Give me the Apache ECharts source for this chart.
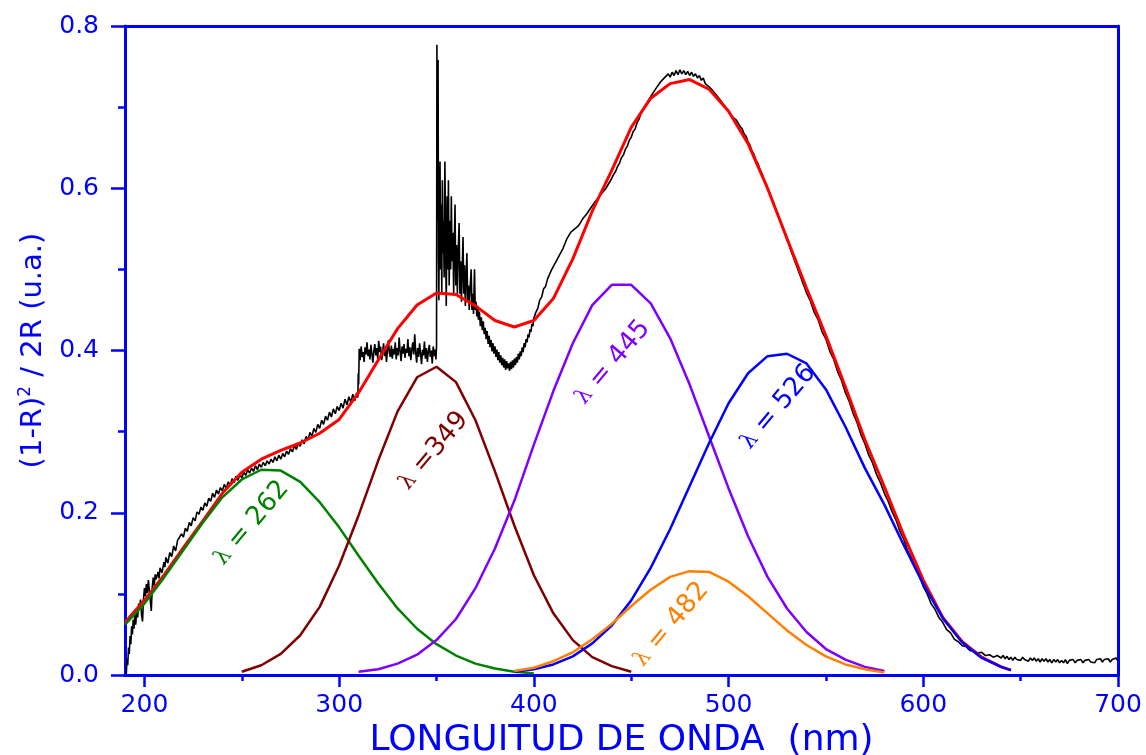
<!DOCTYPE html>
<html>
<head>
<meta charset="utf-8">
<title>Espectro de reflectancia difusa</title>
<script src="https://cdn.jsdelivr.net/npm/echarts/dist/echarts.min.js"></script>
<style>
  html, body { margin: 0; padding: 0; background: #fff; }
  #chart { width: 1146px; height: 755px; }
</style>
</head>
<body>
<div id="chart"></div>
<script>
  // espectro medido (negro) [nm, (1-R)^2/2R]
  var spectrum = [
    [190.7,0.002],[191.0,0.020],[191.4,0.012],[191.8,0.034],[192.2,0.026],[192.6,0.048],[193.0,0.038],[193.4,0.060],[193.8,0.050],[194.2,0.068],
    [194.6,0.057],[195.0,0.074],[195.5,0.062],[196.0,0.080],[196.5,0.071],[197.0,0.088],[197.5,0.083],[198.0,0.093],[198.5,0.074],[199.0,0.066],
    [199.5,0.094],[200.0,0.107],[200.5,0.097],[201.0,0.112],[201.5,0.101],[202.0,0.117],[202.5,0.104],[203.0,0.092],[203.5,0.079],[204.0,0.108],
    [204.5,0.120],[205.0,0.110],[205.5,0.124],[206.0,0.118],[207.0,0.127],[207.5,0.119],[208.0,0.132],[209.0,0.126],[210.0,0.139],[210.5,0.133],
    [211.0,0.145],[212.0,0.138],[213.0,0.151],[214.0,0.146],[215.0,0.159],[216.0,0.153],[217.0,0.166],[218.0,0.168],
    [219,0.174],[220,0.170],[221,0.181],[222,0.177],[223,0.188],[224,0.184],[225,0.194],[226,0.190],[227,0.201],[228,0.198],
    [229,0.207],[230,0.203],[231,0.212],[232,0.208],[233,0.218],[234,0.214],[235,0.224],[236,0.219],[237,0.228],[238,0.223],
    [239,0.231],[240,0.227],[241,0.235],[242,0.230],[243,0.238],[244,0.234],[245,0.242],[246,0.237],[247,0.245],[248,0.240],
    [249,0.247],[250,0.243],[251,0.250],[252,0.246],[253,0.253],[254,0.249],[255,0.255],[256,0.251],[257,0.258],[258,0.253],
    [259,0.260],[260,0.256],[261,0.262],[262,0.258],[263,0.264],[264,0.260],[265,0.266],[266,0.262],[267,0.269],[268,0.264],
    [269,0.271],[270,0.266],[271,0.273],[272,0.269],[273,0.276],[274,0.272],[275,0.279],[276,0.275],[277,0.283],[278,0.278],
    [279,0.286],[280,0.282],[281,0.290],[282,0.285],[283,0.294],[284,0.290],[285,0.299],[286,0.294],[287,0.304],[288,0.299],
    [289,0.309],[290,0.304],[291,0.314],[292,0.309],[293,0.319],[294,0.314],[295,0.324],[296,0.318],[297,0.328],[298,0.322],
    [299,0.331],[300,0.326],[301,0.335],[302,0.329],[303,0.340],[304,0.333],[305,0.343],[306,0.336],[307,0.346],[308,0.338],
    [309,0.348],[309.6,0.342],
    [309.8,0.372],[310.0,0.358],[310.3,0.402],[310.8,0.388],[311.3,0.405],[311.8,0.392],[312.3,0.398],[312.8,0.386],[313.3,0.404],[313.8,0.395],
    [314.3,0.410],[314.8,0.393],[315.3,0.401],[315.8,0.389],[316.3,0.407],[316.8,0.396],[317.3,0.385],[317.8,0.399],[318.3,0.408],[318.8,0.394],
    [319.3,0.403],[319.8,0.390],[320.3,0.412],[320.8,0.398],[321.3,0.405],[321.8,0.388],[322.3,0.396],[322.8,0.409],[323.3,0.393],[323.8,0.404],
    [324.3,0.386],[324.8,0.400],[325.3,0.413],[325.8,0.397],[326.3,0.392],[326.8,0.406],[327.3,0.390],[327.8,0.402],[328.3,0.395],[328.8,0.410],
    [329.3,0.389],[329.8,0.403],[330.3,0.394],[330.8,0.416],[331.3,0.399],[331.8,0.387],[332.3,0.405],[332.8,0.396],[333.3,0.408],[333.8,0.391],
    [334.3,0.402],[334.8,0.397],[335.3,0.414],[335.8,0.393],[336.3,0.404],[336.8,0.388],[337.3,0.401],[337.8,0.410],[338.3,0.395],[338.8,0.420],
    [339.3,0.398],[339.8,0.385],[340.3,0.403],[340.8,0.392],[341.3,0.409],[341.8,0.396],[342.3,0.383],[342.8,0.401],[343.3,0.394],[343.8,0.411],
    [344.3,0.390],[344.8,0.403],[345.3,0.386],[345.8,0.399],[346.3,0.407],[346.8,0.392],[347.3,0.400],[347.8,0.384],[348.3,0.405],[348.8,0.393],
    [349.3,0.401],[349.7,0.389],[350.0,0.405],
    [350.2,0.777],[350.4,0.560],[350.6,0.700],[350.8,0.758],[351.0,0.520],[351.2,0.462],[351.5,0.600],[351.8,0.633],[352.1,0.500],[352.4,0.580],
    [352.7,0.470],[353.0,0.610],[353.3,0.520],[353.6,0.560],[353.9,0.490],[354.3,0.633],[354.7,0.520],[355.0,0.455],[355.4,0.590],[355.8,0.500],
    [356.1,0.610],[356.5,0.480],[356.9,0.560],[357.3,0.500],[357.6,0.590],[358.0,0.510],[358.4,0.545],[358.8,0.470],[359.2,0.540],[359.5,0.580],
    [359.9,0.480],[360.3,0.530],[360.7,0.470],[361.1,0.520],[361.6,0.557],[362.0,0.470],[362.4,0.510],[362.8,0.460],[363.2,0.500],[363.6,0.540],
    [364.0,0.470],[364.4,0.505],[364.8,0.455],[365.2,0.490],[365.6,0.520],[366.0,0.460],[366.4,0.480],[366.8,0.450],[367.2,0.475],[367.8,0.500],
    [368.2,0.450],[368.6,0.470],[369.0,0.445],[369.5,0.500],[369.9,0.450],[370.3,0.460],[370.7,0.442],[371.1,0.455],[371.5,0.438],[372.0,0.448],
    [372.5,0.430],[373.0,0.441],[373.5,0.425],[374.0,0.436],[374.5,0.420],[375.0,0.428],[375.5,0.414],[376.0,0.424],[376.5,0.408],[377.0,0.418],
    [377.5,0.404],[378.0,0.413],[378.5,0.399],[379.0,0.409],[379.5,0.396],[380.0,0.405],[380.5,0.392],[381.0,0.401],[381.5,0.388],[382.0,0.398],
    [382.5,0.385],[383.0,0.394],[383.5,0.382],[384.0,0.391],[384.5,0.379],[385.0,0.389],[385.5,0.376],[386.0,0.387],[386.5,0.378],[387.0,0.384],
    [387.5,0.375],[388.0,0.386],[388.5,0.377],[389.0,0.388],[389.5,0.379],[390.0,0.390],[390.5,0.382],[391.0,0.392],[391.5,0.385],[392.0,0.396],
    [392.5,0.389],[393.0,0.399],[393.5,0.393],[394.0,0.404],[394.5,0.398],[395.0,0.409],[395.5,0.404],[396.0,0.414],[396.5,0.410],[397.0,0.420],
    [397.5,0.416],[398.0,0.426],[398.5,0.423],[399.0,0.433],[399.5,0.430],[400.0,0.440],
    [401,0.447],[402,0.452],[403,0.462],[404,0.466],[405,0.476],[406,0.479],[407,0.488],[408,0.490],[409,0.499],[410,0.501],
    [411,0.508],[412,0.509],[413,0.517],[414,0.518],[415,0.526],[416,0.528],[417,0.538],[418,0.540],[419,0.546],[420,0.544],
    [421,0.550],[422,0.548],[423,0.554],[424,0.555],[425,0.562],[426,0.561],[427,0.568],[428,0.568],[429,0.575],[430,0.575],
    [431,0.582],[432,0.583],[433,0.588],[434,0.589],[435,0.594],[436,0.595],[437,0.600],[438,0.602],[439,0.608],[440,0.610],
    [441,0.617],[442,0.621],[443,0.627],[444,0.631],[445,0.638],[446,0.641],[447,0.648],[448,0.652],[449,0.659],[450,0.663],
    [451,0.670],[452,0.673],[453,0.681],[454,0.685],[455,0.692],[456,0.694],[457,0.701],[458,0.703],[459,0.709],[460,0.711],
    [461,0.717],[462,0.718],[463,0.724],[464,0.725],[465,0.731],[466,0.730],[467,0.736],[468,0.735],[469,0.741],[470,0.737],
    [471,0.743],[472,0.739],[473,0.745],[474,0.740],[475,0.746],[476,0.741],[477,0.745],[478,0.740],[479,0.744],[480,0.739],
    [481,0.743],[482,0.738],[483,0.741],[484,0.736],[485,0.739],[486,0.733],[487,0.736],[488,0.729],[489,0.731],[490,0.725],
    [491,0.727],[492,0.720],[493,0.721],[494,0.714],[495,0.715],[496,0.708],[497,0.708],[498,0.701],[499,0.701],[500,0.694],
    [501,0.694],[502,0.688],[503,0.687],[504,0.684],[505,0.682],[506,0.676],[507,0.673],[508,0.667],[509,0.664],[510,0.657],
    [511,0.653],[512,0.646],[513,0.642],[514,0.635],[515,0.631],[516,0.624],[517,0.619],[518,0.612],[519,0.607],[520,0.600],
    [521,0.595],[522,0.588],[523,0.583],[524,0.575],[525,0.570],[526,0.562],[527,0.557],[528,0.549],[529,0.544],[530,0.536],
    [531,0.531],[532,0.523],[533,0.517],[534,0.510],[535,0.504],[536,0.497],[537,0.491],[538,0.484],[539,0.478],[540,0.471],
    [542,0.461],[544,0.447],[546,0.438],[548,0.423],[550,0.414],[552,0.399],[554,0.389],[556,0.374],[558,0.363],[560,0.348],
    [562,0.337],[564,0.322],[566,0.311],[568,0.296],[570,0.285],[572,0.271],[574,0.261],[576,0.247],[578,0.237],[580,0.224],
    [582,0.214],[584,0.201],[586,0.191],[588,0.177],[590,0.167],[592,0.153],[594,0.144],[596,0.131],[598,0.122],[600,0.109],
    [602,0.100],[604,0.088],[606,0.081],[608,0.071],[610,0.065],[612,0.056],[614,0.052],[616,0.044],[618,0.041],[620,0.036],
    [622,0.035],[624,0.030],[626,0.030],[628,0.027],[630,0.028],[632,0.024],[634,0.025],[636,0.022],[638,0.024],[640,0.021],
    [641,0.024],[642,0.020],[643,0.023],[644,0.019],[645,0.022],[646,0.018],[647,0.022],[648,0.019],[649,0.021],[650,0.018],
    [651,0.022],[652,0.019],[653,0.021],[654,0.017],[655,0.021],[656,0.018],[657,0.021],[658,0.017],[659,0.020],[660,0.016],
    [661,0.020],[662,0.017],[663,0.020],[664,0.016],[665,0.019],[666,0.015],[667,0.019],[668,0.016],[669,0.019],[670,0.015],
    [671,0.018],[672,0.015],[673,0.019],[674,0.014],[675,0.018],[676,0.016],[677,0.019],[678,0.015],[679,0.018],[680,0.016],
    [681,0.019],[682,0.015],[683,0.018],[684,0.016],[685,0.019],[686,0.016],[687,0.018],[688,0.015],[689,0.019],[690,0.017],
    [691,0.020],[692,0.016],[693,0.019],[694,0.017],[695,0.020],[696,0.016],[697,0.019],[698,0.017],[699,0.021],[699.7,0.018]
  ]

  // ajuste total (rojo)
  var fitTotal = [
    [190,0.065],[200,0.092],[210,0.123],[220,0.157],[230,0.190],[240,0.224],[250,0.250],[260,0.266],[270,0.277],[280,0.286],
    [290,0.298],[300,0.315],[310,0.348],[320,0.388],[330,0.427],[340,0.456],[350,0.471],[360,0.469],[370,0.455],[380,0.437],
    [390,0.429],[400,0.437],[410,0.464],[420,0.513],[430,0.572],[440,0.622],[450,0.675],[460,0.711],[470,0.729],[480,0.734],
    [490,0.722],[500,0.695],[510,0.655],[520,0.600],[530,0.538],[540,0.477],[550,0.418],[560,0.355],[570,0.290],[580,0.232],
    [590,0.172],[600,0.117],[610,0.071],[620,0.041],[630,0.022],[640,0.010],[645,0.006]
  ]

  // bandas gaussianas
  var band262 = [
    [190,0.062],[200,0.088],[210,0.120],[220,0.154],[230,0.188],[240,0.219],[250,0.241],[260,0.253],[270,0.252],[280,0.238],
    [290,0.213],[300,0.182],[310,0.147],[320,0.113],[330,0.082],[340,0.057],[350,0.038],[360,0.024],[370,0.014],[380,0.008],
    [390,0.004],[400,0.002]
  ]
  var band349 = [
    [250,0.004],[260,0.012],[270,0.026],[280,0.049],[290,0.084],[300,0.135],[310,0.197],[320,0.264],[330,0.325],[340,0.367],
    [350,0.380],[360,0.361],[370,0.314],[380,0.251],[390,0.184],[400,0.123],[410,0.076],[420,0.043],[430,0.022],[440,0.011],
    [450,0.004]
  ]
  var band445 = [
    [310,0.004],[320,0.007],[330,0.014],[340,0.025],[350,0.043],[360,0.069],[370,0.107],[380,0.156],[390,0.215],[400,0.284],
    [410,0.350],[420,0.409],[430,0.456],[440,0.481],[450,0.481],[460,0.458],[470,0.415],[480,0.358],[490,0.294],[500,0.230],
    [510,0.171],[520,0.121],[530,0.082],[540,0.053],[550,0.032],[560,0.019],[570,0.010],[580,0.005]
  ]
  var band526 = [
    [390,0.004],[400,0.007],[410,0.013],[420,0.023],[430,0.039],[440,0.061],[450,0.092],[460,0.132],[470,0.180],[480,0.233],
    [490,0.286],[500,0.335],[510,0.372],[520,0.393],[530,0.396],[540,0.384],[550,0.352],[560,0.306],[570,0.255],[580,0.210],
    [590,0.160],[600,0.112],[610,0.070],[620,0.040],[630,0.021],[640,0.010],[645,0.006]
  ]
  var band482 = [
    [390,0.005],[400,0.009],[410,0.017],[420,0.028],[430,0.044],[440,0.063],[450,0.085],[460,0.105],[470,0.121],[480,0.128],
    [490,0.127],[500,0.115],[510,0.097],[520,0.076],[530,0.055],[540,0.037],[550,0.023],[560,0.013],[570,0.007],[580,0.003]
  ]

  var xTicks = [200, 300, 400, 500, 600, 700]
  var xMinorTicks = [250, 350, 450, 550, 650]

  var bandTexts = ['= 262', '=349', '= 445', '= 526', '= 482']
  var bandColors = ['#008000', '#800000', '#8000ff', '#0000ff', '#ff8000']
  var bandLabelAt = [[255, 0.187], [348.5, 0.276], [440.5, 0.385], [525.5, 0.330], [470.5, 0.062]]

  var axisBlue = '#0000ff'
  var font = 'DejaVu Sans'

  var myChart = echarts.init(document.getElementById('chart'))

  function lineSeries (data, color, width) {
    return {
      type: 'line',
      data: data,
      showSymbol: false,
      symbol: 'none',
      silent: true,
      animation: false,
      lineStyle: { color: color, width: width },
      xAxisIndex: 0,
      yAxisIndex: 0
    }
  }

  var option = {
    backgroundColor: '#ffffff',
    animation: false,
    grid: { left: 125, right: 28, top: 26, bottom: 80, containLabel: false, outerBoundsMode: 'none' },
    xAxis: [{
      type: 'value',
      min: 190,
      max: 700,
      position: 'bottom',
      name: 'LONGUITUD DE ONDA  (nm)',
      nameLocation: 'middle',
      nameGap: 41,
      nameTextStyle: { color: axisBlue, fontFamily: font, fontSize: 36 },
      splitLine: { show: false },
      axisLine: { lineStyle: { color: axisBlue, width: 3 } },
      axisTick: { customValues: xTicks, length: 12, lineStyle: { color: axisBlue, width: 2.5 } },
      axisLabel: { customValues: xTicks, color: axisBlue, fontFamily: font, fontSize: 25, margin: 18 }
    }, {
      // ticks menores
      type: 'value',
      min: 190,
      max: 700,
      position: 'bottom',
      splitLine: { show: false },
      axisLine: { show: false },
      axisTick: { customValues: xMinorTicks, length: 6, lineStyle: { color: axisBlue, width: 2.5 } },
      axisLabel: { show: false }
    }, {
      // marco superior
      type: 'value',
      min: 190,
      max: 700,
      position: 'top',
      splitLine: { show: false },
      axisLine: { lineStyle: { color: axisBlue, width: 3 } },
      axisTick: { show: false },
      axisLabel: { show: false }
    }],
    yAxis: [{
      type: 'value',
      min: 0,
      max: 0.8,
      interval: 0.2,
      position: 'left',
      name: '{a|(1-R)}{s|2}{a| / 2R (u.a.)}',
      nameLocation: 'middle',
      nameGap: 64,
      nameTextStyle: {
        color: axisBlue,
        fontFamily: font,
        fontSize: 29,
        rich: {
          a: { color: axisBlue, fontFamily: font, fontSize: 29, lineHeight: 34 },
          s: { color: axisBlue, fontFamily: font, fontSize: 17, lineHeight: 18, verticalAlign: 'top' }
        }
      },
      splitLine: { show: false },
      axisLine: { lineStyle: { color: axisBlue, width: 3 } },
      axisTick: { length: 14, lineStyle: { color: axisBlue, width: 2.5 } },
      minorTick: { show: true, splitNumber: 2, length: 7, lineStyle: { color: axisBlue, width: 2.5 } },
      axisLabel: {
        color: axisBlue,
        fontFamily: font,
        fontSize: 25,
        margin: 26,
        formatter: function (v) { return v.toFixed(1) }
      }
    }, {
      // marco derecho
      type: 'value',
      min: 0,
      max: 0.8,
      position: 'right',
      splitLine: { show: false },
      axisLine: { lineStyle: { color: axisBlue, width: 3 } },
      axisTick: { show: false },
      axisLabel: { show: false }
    }],
    series: [
      lineSeries(spectrum, '#000000', 1.6),
      lineSeries(fitTotal, '#ff0000', 3),
      lineSeries(band262, bandColors[0], 2.5),
      lineSeries(band349, bandColors[1], 2.5),
      lineSeries(band445, bandColors[2], 2.5),
      lineSeries(band526, bandColors[3], 2.5),
      lineSeries(band482, bandColors[4], 2.5)
    ]
  }

  myChart.setOption(option)

  // etiquetas de las bandas, rotadas
  var labels = []
  for (var i = 0; i < bandTexts.length; i++) {
    var p = myChart.convertToPixel({ xAxisIndex: 0, yAxisIndex: 0 }, bandLabelAt[i])
    labels.push({
      type: 'text',
      x: p[0],
      y: p[1],
      rotation: 50 * Math.PI / 180,
      silent: true,
      z: 100,
      style: {
        text: '{l|λ}{n| ' + bandTexts[i] + '}',
        align: 'center',
        verticalAlign: 'middle',
        fill: bandColors[i],
        rich: {
          l: { fontFamily: 'DejaVu Serif', fontSize: 22, fill: bandColors[i] },
          n: { fontFamily: font, fontSize: 26, fill: bandColors[i] }
        }
      }
    })
  }
  myChart.setOption({ graphic: labels })
</script>
</body>
</html>
